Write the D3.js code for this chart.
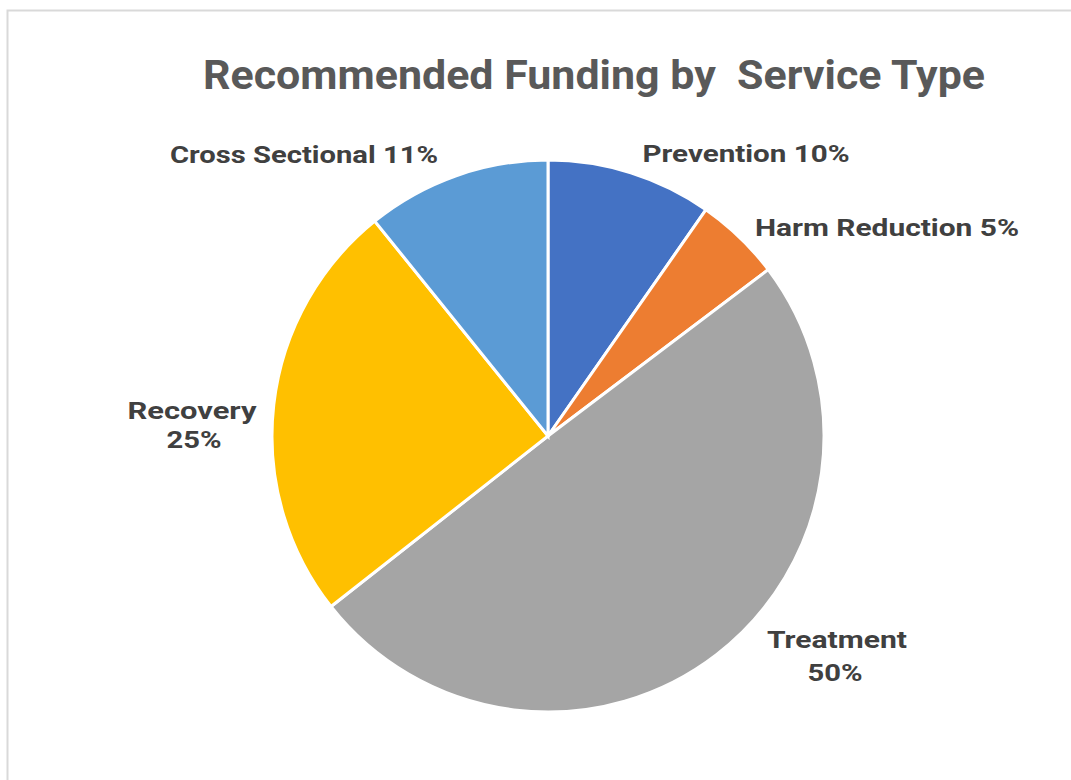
<!DOCTYPE html>
<meta charset="utf-8">
<style>
body { margin: 0; background: #fff; }
.title { font-family: Roboto, "Liberation Sans", sans-serif; font-weight: bold; fill: #595959; white-space: pre; }
.lbl { font-family: Roboto, "Liberation Sans", sans-serif; font-weight: bold; fill: #404040; font-size: 24px; }
.slices path { stroke: #fff; stroke-width: 3px; }
</style>
<svg width="1071" height="780"></svg>
<script src="https://cdn.jsdelivr.net/npm/d3@7"></script>
<script>

// data (labels show rounded values)
var categories = ["Prevention", "Harm Reduction", "Treatment", "Recovery", "Cross Sectional"];
var shares = [9.7, 5.0, 49.7, 24.8, 10.8];
var colors = ["#4472C4", "#ED7D31", "#A5A5A5", "#FFC000", "#5B9BD5"];
// label lines: [centre x, baseline y, width] per line
var labelLines = [
    [[746, 162, 207]],
    [[887, 236, 264]],
    [[837, 648, 140], [835, 681, 55]],
    [[192, 419, 129], [194, 448, 55]],
    [[304, 163, 268]]
];

var svg = d3.select("svg"),
    width = +svg.attr("width"),
    height = +svg.attr("height");

// chart frame
svg.append("path")
    .attr("d", "M7.5,780 V10.5 H1071")
    .attr("fill", "none")
    .attr("stroke", "#d9d9d9")
    .attr("stroke-width", 2);

svg.append("text")
    .attr("class", "title")
    .attr("x", 594)
    .attr("y", 89)
    .attr("text-anchor", "middle")
    .attr("font-size", 40)
    .attr("textLength", 782)
    .attr("lengthAdjust", "spacingAndGlyphs")
    .text("Recommended Funding by  Service Type");

var data = categories.map(function(c, i) { return {name: c, value: shares[i], i: i}; });

var pie = d3.pie().sort(null).value(function(d) { return d.value; });
var arc = d3.arc().innerRadius(0).outerRadius(276);

var g = svg.append("g")
    .attr("class", "slices")
    .attr("transform", "translate(548,436)");

g.selectAll("path")
    .data(pie(data))
    .enter().append("path")
    .attr("d", arc)
    .attr("fill", function(d) { return colors[d.data.i]; });

var labels = svg.append("g").selectAll("g")
    .data(data)
    .enter().append("g");

labels.each(function(d) {
    var lines = labelLines[d.i],
        pct = Math.round(d.value) + "%",
        texts = lines.length > 1 ? [d.name, pct] : [d.name + " " + pct];
    var sel = d3.select(this);
    lines.forEach(function(l, k) {
        sel.append("text")
            .attr("class", "lbl")
            .attr("text-anchor", "middle")
            .attr("x", l[0])
            .attr("y", l[1])
            .attr("textLength", l[2])
            .attr("lengthAdjust", "spacingAndGlyphs")
            .text(texts[k]);
    });
});
</script>
